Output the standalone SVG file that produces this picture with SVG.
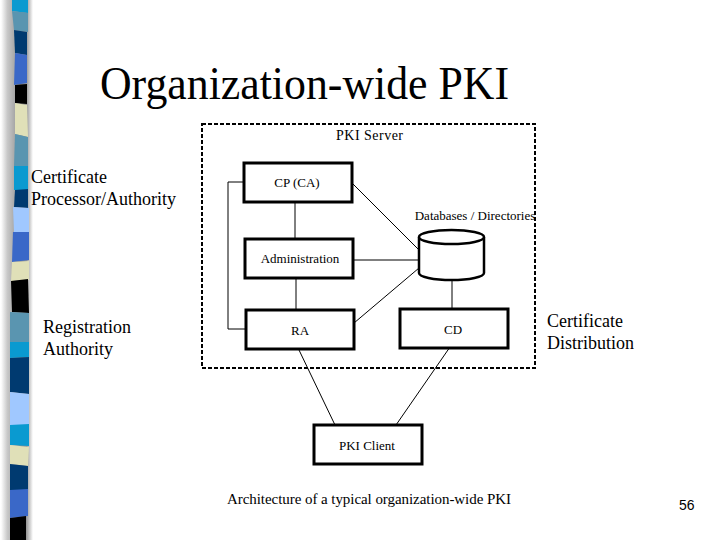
<svg xmlns="http://www.w3.org/2000/svg" width="720" height="540" viewBox="0 0 720 540">
<style>
text{font-family:"Liberation Serif","Times New Roman",serif;fill:#000}
.t{font-size:46px}
.l{font-size:18px}
.s{font-size:13px}
.c{text-anchor:middle}
.box{fill:#fff;stroke:#000;stroke-width:3}
.cn{fill:none;stroke:#000;stroke-width:1}
</style>
<defs>
<linearGradient id="sh" x1="0" x2="1" y1="0" y2="0">
<stop offset="0" stop-color="#fff"/><stop offset=".2" stop-color="#c8c8c8"/><stop offset=".62" stop-color="#8c8c8c"/><stop offset=".8" stop-color="#9a9a9a"/><stop offset="1" stop-color="#fff"/>
</linearGradient>
</defs>
<rect width="720" height="540" fill="#fff"/>
<g id="strip">
<rect x="1" y="0" width="32" height="540" fill="url(#sh)"/>
<polygon fill="#0a9ad0" points="12,0 28,0 28,13 12,11"/>
<polygon fill="#5a95b0" points="12,11 28,13 28,32 14,30"/>
<polygon fill="#003a70" points="14,30 27,32 27,55 15,53"/>
<polygon fill="#3a68c8" points="15,53 27,55 27,83 14,85"/>
<polygon fill="#000" points="15,85 27,84 27,104 15,103"/>
<polygon fill="#e0e0b8" points="15,103 27,105 28,137 15,134"/>
<polygon fill="#5a95b0" points="15,134 28,137 28,166 14,166"/>
<polygon fill="#0a9ad0" points="14,166 28,166 28,190 14,190"/>
<polygon fill="#003a70" points="15,190 28,189 28,208 14,207"/>
<polygon fill="#a0c8ff" points="13,207 29,208 29,232 14,232"/>
<polygon fill="#3a68c8" points="13,232 29,232 29,260 12,262"/>
<polygon fill="#e0e0b8" points="12,262 29,261 29,280 11,281"/>
<polygon fill="#000" points="11,281 28,279 29,313 12,312"/>
<polygon fill="#5a95b0" points="10,312 29,313 29,342 10,342"/>
<polygon fill="#0a9ad0" points="10,342 29,342 29,357 10,358"/>
<polygon fill="#003a70" points="10,358 29,357 29,394 10,392"/>
<polygon fill="#a0c8ff" points="10,392 29,394 29,426 10,425"/>
<polygon fill="#0a9ad0" points="10,425 29,424 29,446 10,445"/>
<polygon fill="#e0e0b8" points="10,445 29,447 28,466 10,464"/>
<polygon fill="#003a70" points="10,464 28,466 28,490 10,490"/>
<polygon fill="#3a68c8" points="10,490 28,489 28,516 10,518"/>
<polygon fill="#000" points="10,518 26,516 26,540 10,540"/>
</g>
<text class="t" x="100" y="99" textLength="409" lengthAdjust="spacingAndGlyphs">Organization-wide PKI</text>
<g id="pki-server">
<rect x="202" y="124" width="333" height="244" fill="none" stroke="#000" stroke-width="2" stroke-dasharray="4 2"/>
<text x="336" y="140" style="font-size:14px" textLength="67">PKI Server</text>
</g>
<g id="connectors">
<path class="cn" d="M244 182H228V329L229 329H246"/>
<path class="cn" d="M295 202V239"/>
<path class="cn" d="M352 183L419 250"/>
<path class="cn" d="M353 260H419"/>
<path class="cn" d="M296 278V310"/>
<path class="cn" d="M354 323L419 268"/>
<path class="cn" d="M452 280V309"/>
<path class="cn" d="M299 350L335 425"/>
<path class="cn" d="M450 347L396 425"/>
</g>
<g id="cp"><rect class="box" x="244" y="163" width="108" height="39"/><text class="s c" x="297" y="187">CP (CA)</text></g>
<g id="administration"><rect class="box" x="245" y="239" width="108" height="39"/><text class="s c" x="300" y="263">Administration</text></g>
<g id="ra"><rect class="box" x="246" y="310" width="108" height="39"/><text class="s c" x="300" y="335">RA</text></g>
<g id="cd"><rect class="box" x="400" y="309" width="108" height="39"/><text class="s c" x="453" y="334">CD</text></g>
<g id="pki-client"><rect class="box" x="314" y="425" width="108" height="39"/><text class="s c" x="367" y="450">PKI Client</text></g>
<g id="database">
<path d="M419 237V273A32.500 7 0 0 0 484 273V237" fill="#fff" stroke="#000" stroke-width="2.500"/>
<ellipse cx="451.500" cy="237" rx="32.500" ry="7" fill="#fff" stroke="#000" stroke-width="2.500"/>
<text class="s c" x="475" y="220">Databases / Directories</text>
</g>
<g id="labels">
<text class="l" x="31" y="183">Certificate</text>
<text class="l" x="31" y="205">Processor/Authority</text>
<text class="l" x="43" y="333">Registration</text>
<text class="l" x="43" y="355">Authority</text>
<text class="l" x="547" y="327">Certificate</text>
<text class="l" x="547" y="349">Distribution</text>
<text x="227" y="504" style="font-size:15px" textLength="284">Architecture of a typical organization-wide PKI</text>
<text x="679" y="510" style="font-family:'Liberation Sans',Arial,sans-serif;font-size:14px">56</text>
</g>
</svg>
